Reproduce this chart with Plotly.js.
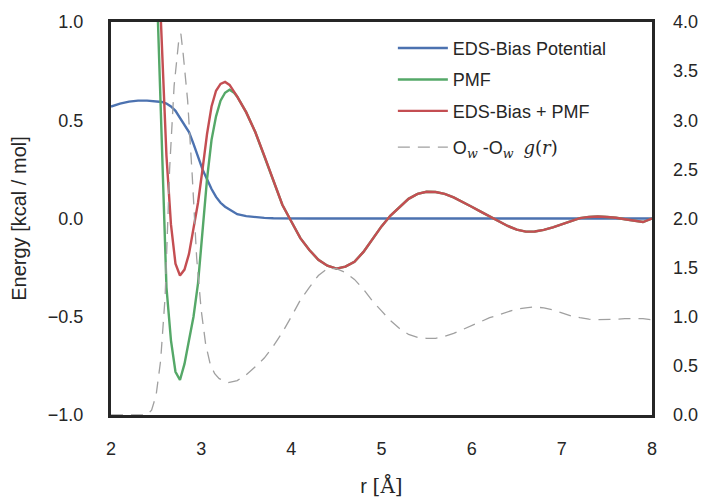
<!DOCTYPE html>
<html>
<head>
<meta charset="utf-8">
<script src="https://cdn.plot.ly/plotly-3.0.1.min.js"></script>
<style>html,body{margin:0;padding:0;background:#fff;}#chart{width:707px;height:498px;}</style>
</head>
<body>
<div id="chart"></div>
<script>
// Distance grid (Å) for the energy curves
const r = [2.0, 2.1, 2.2, 2.3, 2.4, 2.5, 2.565, 2.615, 2.665, 2.715, 2.765, 2.815, 2.865, 2.915, 2.965,
  3.015, 3.065, 3.115, 3.165, 3.215, 3.265, 3.315, 3.365, 3.4, 3.5, 3.6, 3.7, 3.8, 3.9, 4.0,
  4.1, 4.2, 4.3, 4.4, 4.5, 4.6, 4.7, 4.8, 4.9, 5.0, 5.1, 5.2, 5.3, 5.4, 5.5, 5.6, 5.7, 5.8, 5.9, 6.0,
  6.1, 6.2, 6.3, 6.4, 6.5, 6.6, 6.7, 6.8, 6.9, 7.0, 7.1, 7.2, 7.3, 7.4, 7.5, 7.6, 7.7, 7.8, 7.9, 8.0];

// EDS-Bias Potential (kcal/mol)
const biasPotential = [0.57, 0.585, 0.595, 0.6, 0.6, 0.598, 0.593, 0.585, 0.57, 0.548, 0.51, 0.475, 0.44, 0.38, 0.31,
  0.25, 0.2, 0.15, 0.11, 0.08, 0.06, 0.045, 0.03, 0.022, 0.012, 0.006, 0.003, 0.001, 0, 0,
  0, 0, 0, 0, 0, 0, 0, 0, 0, 0, 0, 0, 0, 0, 0, 0, 0, 0, 0, 0,
  0, 0, 0, 0, 0, 0, 0, 0, 0, 0, 0, 0, 0, 0, 0, 0, 0, 0, 0, 0];

// PMF (kcal/mol); off-scale above the axis for r < 2.5
const pmf = [null, null, null, null, null, 1.3, 0.32, -0.35, -0.62, -0.78, -0.822, -0.74, -0.62, -0.5, -0.33,
  -0.05, 0.2, 0.4, 0.52, 0.6, 0.64, 0.655, 0.64, 0.62, 0.54, 0.44, 0.32, 0.19, 0.07, -0.015,
  -0.1, -0.16, -0.21, -0.24, -0.255, -0.245, -0.22, -0.17, -0.105, -0.04, 0.015, 0.06, 0.1, 0.125, 0.136, 0.135, 0.125, 0.107, 0.085, 0.06,
  0.035, 0.01, -0.015, -0.038, -0.057, -0.067, -0.066, -0.058, -0.045, -0.03, -0.012, 0.002, 0.008, 0.01, 0.008, 0.004, -0.004, -0.01, -0.018, 0.0];

// EDS-Bias + PMF (kcal/mol)
const biasPlusPmf = [null, null, null, null, null, 1.6, 0.84, 0.32, -0.03, -0.23, -0.29, -0.26, -0.18, -0.055, 0.08,
  0.25, 0.43, 0.57, 0.65, 0.685, 0.695, 0.68, 0.645, 0.62, 0.54, 0.44, 0.32, 0.19, 0.07, -0.015,
  -0.1, -0.16, -0.21, -0.24, -0.255, -0.245, -0.22, -0.17, -0.105, -0.04, 0.015, 0.06, 0.1, 0.125, 0.136, 0.135, 0.125, 0.107, 0.085, 0.06,
  0.035, 0.01, -0.015, -0.038, -0.057, -0.067, -0.066, -0.058, -0.045, -0.03, -0.012, 0.002, 0.008, 0.01, 0.008, 0.004, -0.004, -0.01, -0.018, 0.0];

// Ow-Ow radial distribution function g(r), right axis
const rGr = [2.0, 2.1, 2.2, 2.3, 2.4, 2.45, 2.5, 2.55, 2.6, 2.65, 2.7, 2.75, 2.775, 2.8, 2.85, 2.9, 2.95, 3.0,
  3.05, 3.1, 3.15, 3.2, 3.3, 3.4, 3.5, 3.6, 3.7, 3.8, 3.9, 4.0, 4.1, 4.2, 4.3, 4.4, 4.5, 4.6, 4.7, 4.8, 4.9, 5.0,
  5.1, 5.2, 5.3, 5.4, 5.5, 5.6, 5.7, 5.8, 5.9, 6.0, 6.1, 6.2, 6.3, 6.4, 6.5, 6.6, 6.7, 6.8, 6.9, 7.0,
  7.1, 7.2, 7.3, 7.4, 7.5, 7.6, 7.7, 7.8, 7.9, 8.0];
const gr = [0, 0, 0, 0, 0, 0.05, 0.2, 0.55, 1.2, 2.5, 3.35, 3.8, 3.88, 3.68, 3.2, 2.45, 1.6, 1.07,
  0.72, 0.52, 0.42, 0.37, 0.33, 0.35, 0.41, 0.49, 0.58, 0.7, 0.84, 1.0, 1.17, 1.3, 1.42, 1.49, 1.49, 1.45, 1.38, 1.28, 1.16, 1.06,
  0.96, 0.88, 0.82, 0.79, 0.78, 0.78, 0.8, 0.83, 0.87, 0.91, 0.95, 0.99, 1.02, 1.05, 1.08, 1.09, 1.1, 1.09, 1.07, 1.04,
  1.01, 0.99, 0.975, 0.97, 0.97, 0.975, 0.98, 0.98, 0.98, 0.97];

const xTicks = [2, 3, 4, 5, 6, 7, 8];
const yTicks = [-1.0, -0.5, 0.0, 0.5, 1.0];
const yTickLabels = ['\u22121.0', '\u22120.5', '0.0', '0.5', '1.0'];
const y2Ticks = [0.0, 0.5, 1.0, 1.5, 2.0, 2.5, 3.0, 3.5, 4.0];
const y2TickLabels = ['0.0', '0.5', '1.0', '1.5', '2.0', '2.5', '3.0', '3.5', '4.0'];

const FONT = 'Liberation Sans, Arial, sans-serif';
const SERIF = 'DejaVu Serif, serif';
const INK = '#262626';
const sI = (t) => '<span style="font-family:' + SERIF + ';font-style:italic">' + t + '</span>';
const sR = (t) => '<span style="font-family:' + SERIF + '">' + t + '</span>';

const traces = [
  {x: r, y: biasPotential, name: 'EDS-Bias Potential', legendgroup: 'a', mode: 'lines', line: {color: '#4C72B0', width: 2.4}},
  {x: r, y: pmf, name: 'PMF', legendgroup: 'b', mode: 'lines', line: {color: '#55A868', width: 2.4}},
  {x: r, y: biasPlusPmf, name: 'EDS-Bias + PMF', legendgroup: 'c', mode: 'lines', line: {color: '#C44E52', width: 2.4}},
  {x: rGr, y: gr, yaxis: 'y2', mode: 'lines', legend: 'legend2',
   name: 'O<sub>' + sI('w') + '</sub> -O<sub>' + sI('w') + '</sub>\u00a0 ' + sI('g') + sR('(') + sI('r') + sR(')'),
   line: {color: '#a0a0a0', width: 1.3, dash: '12px,8px'}}
];

const legendBase = {xanchor: 'left', yanchor: 'top', bgcolor: 'rgba(0,0,0,0)', itemwidth: 50,
                    font: {family: FONT, size: 18, color: INK}, tracegroupgap: 5};

const layout = {
  width: 707, height: 498,
  margin: {l: 111, r: 55, t: 22, b: 83},
  paper_bgcolor: '#fff', plot_bgcolor: '#fff',
  font: {family: FONT, size: 18, color: INK},
  showlegend: true,
  legend: Object.assign({x: 0.521, y: 0.98}, legendBase),
  legend2: Object.assign({x: 0.521, y: 0.728}, legendBase),
  xaxis: {range: [2, 8], tickvals: xTicks, ticktext: xTicks.map(String), ticks: '', showgrid: false, zeroline: false,
          showline: true, mirror: true, linecolor: INK, linewidth: 3, ticklabelstandoff: 15,
          title: {text: 'r ' + sR('[Å]'), font: {family: FONT, size: 20, color: INK}, standoff: 24}},
  yaxis: {range: [-1, 1], tickvals: yTicks, ticktext: yTickLabels, ticks: '', showgrid: false, zeroline: false,
          showline: true, mirror: true, linecolor: INK, linewidth: 3, ticklabelstandoff: 21,
          title: {text: 'Energy [kcal / mol]', font: {family: FONT, size: 20, color: INK}, standoff: 16}},
  yaxis2: {range: [0, 4], overlaying: 'y', side: 'right', tickvals: y2Ticks, ticktext: y2TickLabels, ticks: '',
           showgrid: false, zeroline: false, showline: false, ticklabelstandoff: 20}
};

Plotly.newPlot('chart', traces, layout, {displayModeBar: false, staticPlot: true});
</script>
</body>
</html>
